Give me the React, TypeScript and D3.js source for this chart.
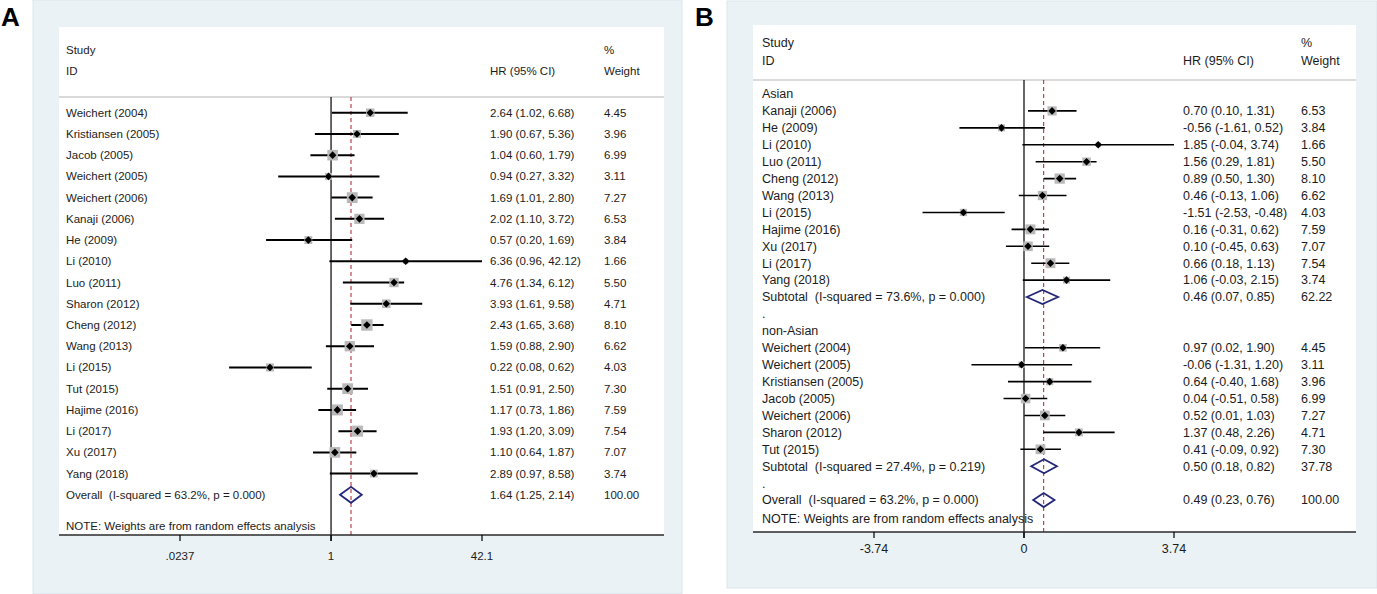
import * as d3 from 'd3';

// ---- Panel A: all studies, HR on a log axis ----
const studiesA = [
  'Weichert (2004)', 'Kristiansen (2005)', 'Jacob (2005)', 'Weichert (2005)', 'Weichert (2006)',
  'Kanaji (2006)', 'He (2009)', 'Li (2010)', 'Luo (2011)', 'Sharon (2012)', 'Cheng (2012)',
  'Wang (2013)', 'Li (2015)', 'Tut (2015)', 'Hajime (2016)', 'Li (2017)', 'Xu (2017)', 'Yang (2018)',
];
const hrA = [2.64, 1.90, 1.04, 0.94, 1.69, 2.02, 0.57, 6.36, 4.76, 3.93, 2.43, 1.59, 0.22, 1.51, 1.17, 1.93, 1.10, 2.89];
const loA = [1.02, 0.67, 0.60, 0.27, 1.01, 1.10, 0.20, 0.96, 1.34, 1.61, 1.65, 0.88, 0.08, 0.91, 0.73, 1.20, 0.64, 0.97];
const hiA = [6.68, 5.36, 1.79, 3.32, 2.80, 3.72, 1.69, 42.12, 6.12, 9.58, 3.68, 2.90, 0.62, 2.50, 1.86, 3.09, 1.87, 8.58];
const weightA = [4.45, 3.96, 6.99, 3.11, 7.27, 6.53, 3.84, 1.66, 5.50, 4.71, 8.10, 6.62, 4.03, 7.30, 7.59, 7.54, 7.07, 3.74];
const overallA = { label: 'Overall  (I-squared = 63.2%, p = 0.000)', hr: 1.64, lo: 1.25, hi: 2.14, w: 100.0 };
const ticksA = [0.0237, 1, 42.1];
const tickLabelsA = ['.0237', '1', '42.1'];

// ---- Panel B: subgroups by ethnicity, linear axis ----
const asianNames = [
  'Kanaji (2006)', 'He (2009)', 'Li (2010)', 'Luo (2011)', 'Cheng (2012)', 'Wang (2013)',
  'Li (2015)', 'Hajime (2016)', 'Xu (2017)', 'Li (2017)', 'Yang (2018)',
];
const asianHR = [0.70, -0.56, 1.85, 1.56, 0.89, 0.46, -1.51, 0.16, 0.10, 0.66, 1.06];
const asianLo = [0.10, -1.61, -0.04, 0.29, 0.50, -0.13, -2.53, -0.31, -0.45, 0.18, -0.03];
const asianHi = [1.31, 0.52, 3.74, 1.81, 1.30, 1.06, -0.48, 0.62, 0.63, 1.13, 2.15];
const asianW = [6.53, 3.84, 1.66, 5.50, 8.10, 6.62, 4.03, 7.59, 7.07, 7.54, 3.74];

const nonAsianNames = [
  'Weichert (2004)', 'Weichert (2005)', 'Kristiansen (2005)', 'Jacob (2005)',
  'Weichert (2006)', 'Sharon (2012)', 'Tut (2015)',
];
const nonAsianHR = [0.97, -0.06, 0.64, 0.04, 0.52, 1.37, 0.41];
const nonAsianLo = [0.02, -1.31, -0.40, -0.51, 0.01, 0.48, -0.09];
const nonAsianHi = [1.90, 1.20, 1.68, 0.58, 1.03, 2.26, 0.92];
const nonAsianW = [4.45, 3.11, 3.96, 6.99, 7.27, 4.71, 7.30];

const subtotalLabels = ['Subtotal  (I-squared = 73.6%, p = 0.000)', 'Subtotal  (I-squared = 27.4%, p = 0.219)'];
const subtotalHR = [0.46, 0.50];
const subtotalLo = [0.07, 0.18];
const subtotalHi = [0.85, 0.82];
const subtotalW = [62.22, 37.78];
const overallB = { label: 'Overall  (I-squared = 63.2%, p = 0.000)', hr: 0.49, lo: 0.23, hi: 0.76, w: 100.0 };
const ticksB = [-3.74, 0, 3.74];
const tickLabelsB = ['-3.74', '0', '3.74'];

const FONT = '"Liberation Sans", Arial, Helvetica, sans-serif';
const TXT = '#1c1c1c';
const PANEL_BG = '#eaf2f6';
const NAVY = '#25287a';
const REF_RED = '#b8323e';

type Row = {
  kind: 'study' | 'pooled' | 'label';
  label: string;
  hr?: number;
  lo?: number;
  hi?: number;
  w?: number;
};

const ci = (hr: number, lo: number, hi: number) => `${hr.toFixed(2)} (${lo.toFixed(2)}, ${hi.toFixed(2)})`;

function studyRows(names: string[], hr: number[], lo: number[], hi: number[], w: number[]): Row[] {
  return names.map((n, i) => ({ kind: 'study', label: n, hr: hr[i], lo: lo[i], hi: hi[i], w: w[i] }));
}

const rowsA: Row[] = [
  ...studyRows(studiesA, hrA, loA, hiA, weightA),
  { kind: 'pooled', ...overallA },
];

const rowsB: Row[] = [
  { kind: 'label', label: 'Asian' },
  ...studyRows(asianNames, asianHR, asianLo, asianHi, asianW),
  { kind: 'pooled', label: subtotalLabels[0], hr: subtotalHR[0], lo: subtotalLo[0], hi: subtotalHi[0], w: subtotalW[0] },
  { kind: 'label', label: '.' },
  { kind: 'label', label: 'non-Asian' },
  ...studyRows(nonAsianNames, nonAsianHR, nonAsianLo, nonAsianHi, nonAsianW),
  { kind: 'pooled', label: subtotalLabels[1], hr: subtotalHR[1], lo: subtotalLo[1], hi: subtotalHi[1], w: subtotalW[1] },
  { kind: 'label', label: '.' },
  { kind: 'pooled', ...overallB },
];

interface PanelProps {
  letter: string;
  letterX: number;
  outer: { x: number; y: number; w: number; h: number };
  plot: { x0: number; x1: number; y0: number; axisY: number };
  headStudyY: number;
  headIdY: number;
  headLineY: number;
  rows: Row[];
  rowY0: number;
  rowStep: number;
  noteY: number;
  x: d3.ScaleContinuousNumeric<number, number>;
  ticks: number[];
  tickLabels: string[];
  nullValue: number;
  pooled: number;
  labelX: number;
  ciX: number;
  wX: number;
  boxK: number;
  ciWidth: number;
  diamondH: number;
  tickLabelY: number;
  fontSize: number;
}

function ForestPanel(p: PanelProps) {
  const [d0, d1] = p.x.domain();
  const clamp = (v: number) => Math.max(d0, Math.min(d1, v));
  const xNull = p.x(p.nullValue);
  const xPool = p.x(p.pooled);
  const textProps = { fontFamily: FONT, fontSize: p.fontSize, fill: TXT, style: { whiteSpace: 'pre' as const } };

  return (
    <g>
      <rect x={p.outer.x} y={p.outer.y} width={p.outer.w} height={p.outer.h} fill={PANEL_BG} stroke="#dbe5ea" />
      <text x={p.letterX} y={26} fontFamily={FONT} fontSize={26} fontWeight="bold" fill="#000">{p.letter}</text>
      <rect x={p.plot.x0} y={p.plot.y0} width={p.plot.x1 - p.plot.x0} height={p.plot.axisY - p.plot.y0} fill="#fff" />

      {/* header */}
      <text {...textProps} x={p.labelX} y={p.headStudyY} dy="0.35em">Study</text>
      <text {...textProps} x={p.labelX} y={p.headIdY} dy="0.35em">ID</text>
      <text {...textProps} x={p.ciX} y={p.headIdY} dy="0.35em">HR (95% CI)</text>
      <text {...textProps} x={p.wX} y={p.headStudyY} dy="0.35em">%</text>
      <text {...textProps} x={p.wX} y={p.headIdY} dy="0.35em">Weight</text>
      <line x1={p.plot.x0} x2={p.plot.x1} y1={p.headLineY} y2={p.headLineY} stroke="#b5b5b5" strokeWidth={1} />

      {/* null line and pooled reference line */}
      <line x1={xNull} x2={xNull} y1={p.headLineY} y2={p.plot.axisY + 6} stroke="#000" strokeWidth={1.2} />
      <line x1={xPool} x2={xPool} y1={p.headLineY} y2={p.plot.axisY} stroke={REF_RED} strokeWidth={1.1} strokeDasharray="4,3" />

      {p.rows.map((r, i) => {
        const y = p.rowY0 + i * p.rowStep;
        const els = [
          <text key="l" {...textProps} x={p.labelX} y={y} dy="0.35em">{r.label}</text>,
        ];
        if (r.kind === 'study' && r.hr !== undefined) {
          const cx = p.x(r.hr);
          const s = p.boxK * Math.sqrt(r.w!);
          els.push(
            <line key="ci" x1={p.x(clamp(r.lo!))} x2={p.x(clamp(r.hi!))} y1={y} y2={y} stroke="#000" strokeWidth={p.ciWidth} />,
            <rect key="b" x={cx - s / 2} y={y - s / 2} width={s} height={s} fill="#b9b9b9" />,
            <path key="m" d={`M${cx - 3.8},${y}L${cx},${y - 3.8}L${cx + 3.8},${y}L${cx},${y + 3.8}Z`} fill="#000" />,
          );
        }
        if (r.kind === 'pooled' && r.hr !== undefined) {
          const h = p.diamondH;
          els.push(
            <path key="d" d={`M${p.x(r.lo!)},${y}L${p.x(r.hr)},${y - h}L${p.x(r.hi!)},${y}L${p.x(r.hr)},${y + h}Z`}
              fill="none" stroke={NAVY} strokeWidth={1.8} />,
          );
        }
        if (r.hr !== undefined) {
          els.push(
            <text key="c" {...textProps} x={p.ciX} y={y} dy="0.35em">{ci(r.hr, r.lo!, r.hi!)}</text>,
            <text key="w" {...textProps} x={p.wX} y={y} dy="0.35em">{r.w!.toFixed(2)}</text>,
          );
        }
        return <g key={i}>{els}</g>;
      })}

      <text {...textProps} x={p.labelX} y={p.noteY} dy="0.35em">NOTE: Weights are from random effects analysis</text>

      {/* axis */}
      <line x1={p.plot.x0} x2={p.plot.x1} y1={p.plot.axisY} y2={p.plot.axisY} stroke="#2a2a2a" strokeWidth={1.4} />
      {p.ticks.map((t, i) => (
        <g key={i}>
          <line x1={p.x(t)} x2={p.x(t)} y1={p.plot.axisY} y2={p.plot.axisY + 6} stroke="#000" strokeWidth={1.2} />
          <text {...textProps} x={p.x(t)} y={p.tickLabelY} dy="0.35em" textAnchor="middle">{p.tickLabels[i]}</text>
        </g>
      ))}
    </g>
  );
}

export default function App() {
  const xA = d3.scaleLog().domain([ticksA[0], ticksA[2]]).range([180, 482]);
  const xB = d3.scaleLinear().domain([ticksB[0], ticksB[2]]).range([874, 1174]);

  return (
    <div style={{ position: 'absolute', left: 0, top: 0 }}>
      <svg width={1377} height={594} style={{ display: 'block', background: '#fff' }}>
        <ForestPanel
          letter="A" letterX={1}
          outer={{ x: 33, y: 0, w: 649, h: 594 }}
          plot={{ x0: 59, x1: 664, y0: 27, axisY: 535 }}
          headStudyY={50} headIdY={71} headLineY={97}
          rows={rowsA} rowY0={112.7} rowStep={21.23} noteY={526}
          x={xA} ticks={ticksA} tickLabels={tickLabelsA} nullValue={1} pooled={overallA.hr}
          labelX={66} ciX={490} wX={604}
          boxK={4.0} ciWidth={2} diamondH={8} tickLabelY={556} fontSize={11.5}
        />
        <ForestPanel
          letter="B" letterX={695}
          outer={{ x: 727, y: 1, w: 650, h: 587 }}
          plot={{ x0: 753, x1: 1356, y0: 25, axisY: 532 }}
          headStudyY={43} headIdY={61} headLineY={80}
          rows={rowsB} rowY0={94} rowStep={16.92} noteY={519}
          x={xB} ticks={ticksB} tickLabels={tickLabelsB} nullValue={0} pooled={overallB.hr}
          labelX={762} ciX={1183} wX={1301}
          boxK={3.6} ciWidth={1.6} diamondH={7} tickLabelY={549} fontSize={12.5}
        />
      </svg>
    </div>
  );
}
